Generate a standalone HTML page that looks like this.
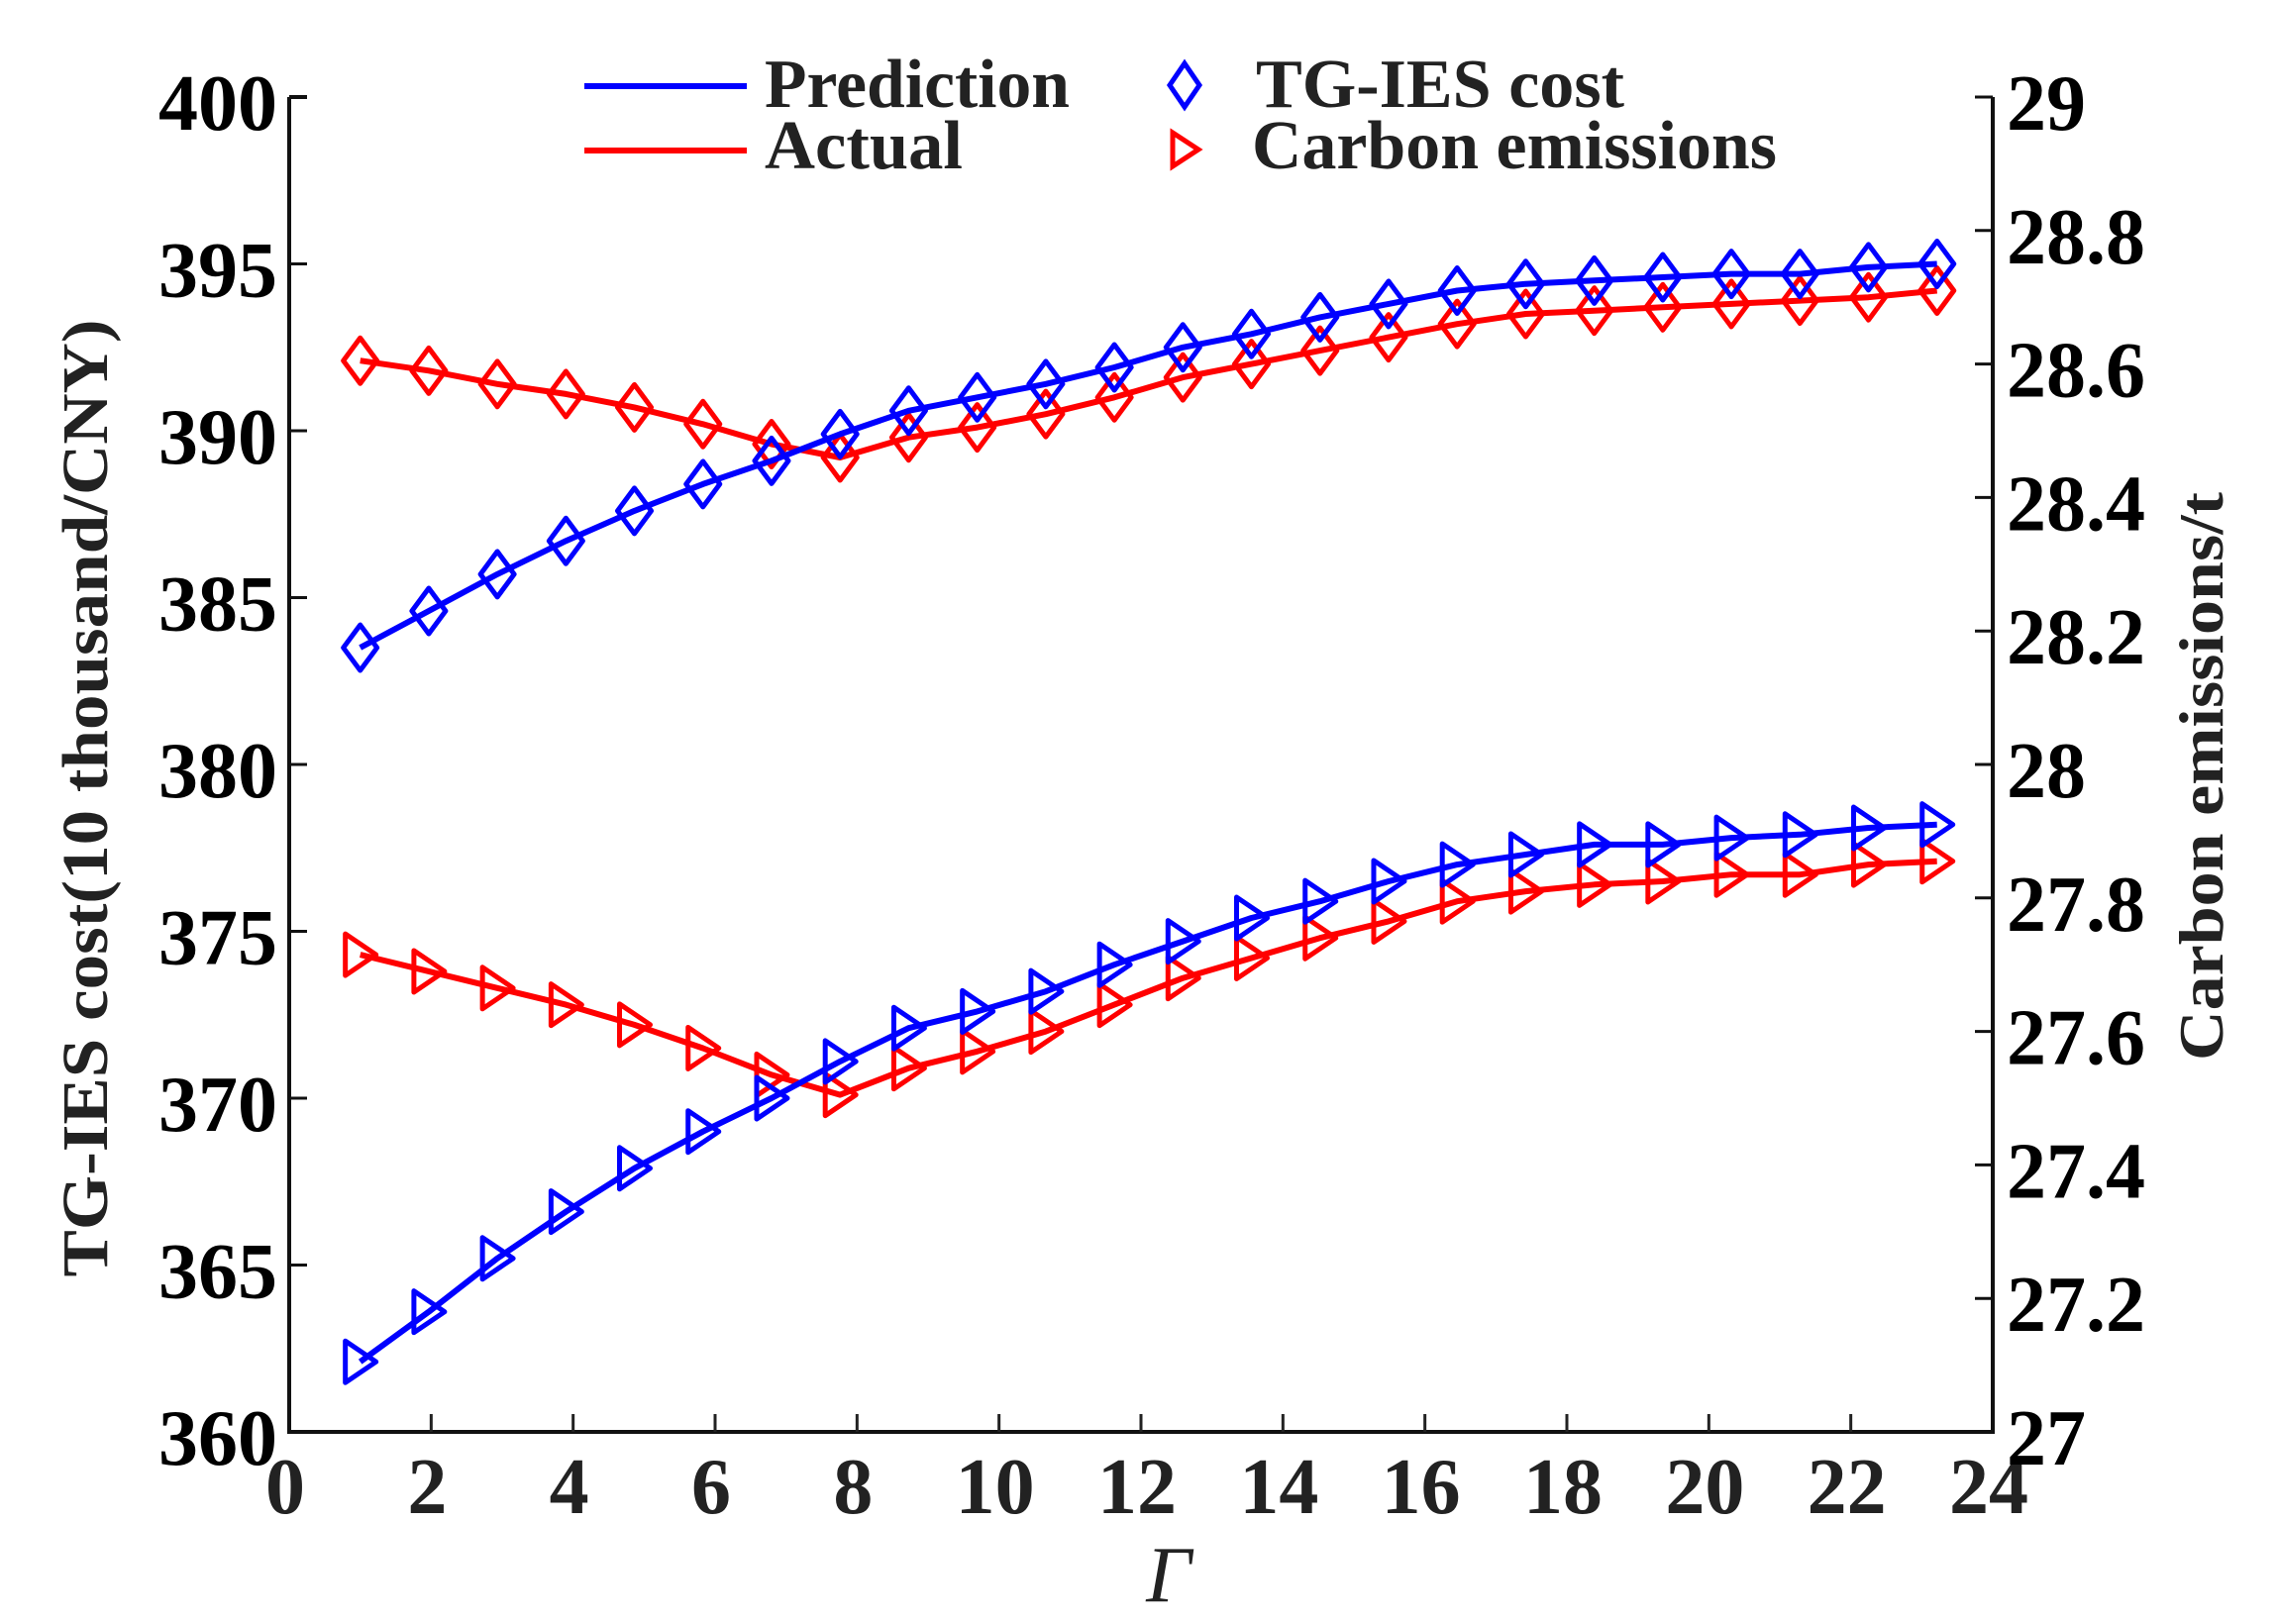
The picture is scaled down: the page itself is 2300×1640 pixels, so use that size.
<!DOCTYPE html>
<html><head><meta charset="utf-8"><style>
html,body{margin:0;padding:0;background:#fff;}
svg{display:block;font-family:"Liberation Serif",serif;font-weight:bold;}
</style></head><body>
<svg id="chart" width="2300" height="1640" viewBox="0 0 2300 1640" xmlns="http://www.w3.org/2000/svg">
<g id="plot"></g>
<g id="axes"></g>
<g id="legend">
  <line x1="590" y1="87" x2="754" y2="87" stroke="#0000ff" stroke-width="6"/>
  <text x="772" y="108" font-size="70" textLength="308" lengthAdjust="spacingAndGlyphs" fill="#222">Prediction</text>
  <line x1="590" y1="152" x2="754" y2="152" stroke="#ff0000" stroke-width="6"/>
  <text x="772" y="170" font-size="70" textLength="200" lengthAdjust="spacingAndGlyphs" fill="#222">Actual</text>
  <path d="M1196,64 L1211,86 L1196,108 L1181,86 Z" fill="none" stroke="#0000ff" stroke-width="5"/>
  <text x="1268" y="108" font-size="70" textLength="372" lengthAdjust="spacingAndGlyphs" fill="#222">TG-IES cost</text>
  <path d="M1184,134 L1210,151 L1184,168 Z" fill="none" stroke="#ff0000" stroke-width="5"/>
  <text x="1264" y="170" font-size="70" textLength="530" lengthAdjust="spacingAndGlyphs" fill="#222">Carbon emissions</text>
</g>
</svg>
<script>
const gammaX = [1,1.966,2.932,3.898,4.863,5.829,6.795,7.761,8.727,9.693,10.659,11.625,12.59,13.556,14.522,15.488,16.454,17.42,18.386,19.351,20.317,21.283,22.249,23.215];
const costPrediction = [383.5,384.6,385.7,386.7,387.6,388.4,389.1,389.9,390.6,391.0,391.4,391.9,392.5,392.9,393.4,393.8,394.2,394.4,394.5,394.6,394.7,394.7,394.9,395.0];
const costActual = [392.1,391.8,391.4,391.1,390.7,390.2,389.6,389.2,389.8,390.1,390.5,391.0,391.6,392.0,392.4,392.8,393.2,393.5,393.6,393.7,393.8,393.9,394.0,394.2];
const carbonPrediction = [27.105,27.18,27.26,27.33,27.395,27.45,27.5,27.555,27.605,27.63,27.66,27.7,27.735,27.77,27.795,27.825,27.85,27.865,27.88,27.88,27.89,27.895,27.905,27.91];
const carbonActual = [27.715,27.69,27.665,27.64,27.61,27.575,27.535,27.505,27.545,27.57,27.6,27.64,27.68,27.71,27.74,27.765,27.795,27.81,27.82,27.825,27.835,27.835,27.85,27.855];
const xTicks = [0,2,4,6,8,10,12,14,16,18,20,22,24];
const yLeftTicks = [360,365,370,375,380,385,390,395,400];
const yRightTicks = [27,27.2,27.4,27.6,27.8,28,28.2,28.4,28.6,28.8,29];
const yRightTickLabels = ["27","27.2","27.4","27.6","27.8","28","28.2","28.4","28.6","28.8","29"];

const NS="http://www.w3.org/2000/svg";
const L=292,R=2012,T=98,B=1446;
const xS=v=>L+(v-0)/24*(R-L);
const yL=v=>B-(v-360)/40*(B-T);
const yR=v=>B-(v-27)/2*(B-T);
function mk(tag,attrs,parent){const e=document.createElementNS(NS,tag);for(const k in attrs)e.setAttribute(k,attrs[k]);parent.appendChild(e);return e;}
const plot=document.getElementById('plot'), axes=document.getElementById('axes');

let e=mk('path',{d:`M${L},${T} L${L},${B} L${R},${B} L${R},${T}`,fill:'none',stroke:'#111','stroke-width':4},axes);


e=mk('line',{x1:L,y1:T,x2:L+18,y2:T,stroke:'#111','stroke-width':4},axes);



xTicks.forEach(v=>{
  const x=xS(v);
  if(v>0&&v<24){const t=mk('line',{x1:x,y1:B,x2:x,y2:B-18,stroke:'#222','stroke-width':3},axes);
  
  }
  const tx=mk('text',{x:x-4,y:1528,'font-size':80,'text-anchor':'middle',fill:'#222'},axes);
  tx.textContent=v;
  
  
});
yLeftTicks.forEach(v=>{
  const y=yL(v);
  const t=mk('line',{x1:L,y1:y,x2:L+18,y2:y,stroke:'#111','stroke-width':3},axes);
  
  
  const tx=mk('text',{x:280,y:y+33,'font-size':80,'text-anchor':'end',fill:'#000'},axes);
  tx.textContent=v;
  
  
});
yRightTicks.forEach((v,i)=>{
  const y=yR(v);
  const t=mk('line',{x1:R,y1:y,x2:R-18,y2:y,stroke:'#111','stroke-width':3},axes);
  
  
  const tx=mk('text',{x:2026,y:y+33,'font-size':80,fill:'#000'},axes);
  tx.textContent=yRightTickLabels[i];
  
  
});
e=mk('text',{x:0,y:0,'font-size':66,'text-anchor':'middle',fill:'#222',transform:'translate(108,806) rotate(-90)',textLength:967,lengthAdjust:'spacingAndGlyphs'},axes);
e.textContent='TG-IES cost(10 thousand/CNY)';


e=mk('text',{x:0,y:0,'font-size':64,'text-anchor':'middle',fill:'#222',transform:'translate(2244,784) rotate(-90)',textLength:574,lengthAdjust:'spacingAndGlyphs'},axes);
e.textContent='Carbon emissions/t';


e=mk('text',{x:1180,y:1617,'font-size':80,'text-anchor':'middle','font-style':'italic','font-weight':'normal',fill:'#222'},axes);
e.textContent='Γ';



function series(vals,ys,color,marker,name){
  const pts=vals.map((v,i)=>xS(gammaX[i]).toFixed(1)+','+ys(v).toFixed(1)).join(' ');
  const pl=mk('polyline',{points:pts,fill:'none',stroke:color,'stroke-width':6,'stroke-linejoin':'round'},plot);
  
  
  vals.forEach((v,i)=>{
    const x=xS(gammaX[i]),y=ys(v);
    const d=marker==='diamond'?`M${x},${y-23} L${x+17},${y} L${x},${y+23} L${x-17},${y} Z`:`M${x-15},${y-21} L${x+16},${y} L${x-15},${y+21} Z`;
    const m=mk('path',{d:d,fill:'none',stroke:color,'stroke-width':5,'stroke-linejoin':'round'},plot);
    
    
  });
}
series(costActual,yL,'#ff0000','diamond','cost-actual');
series(costPrediction,yL,'#0000ff','diamond','cost-prediction');
series(carbonActual,yR,'#ff0000','triangle','carbon-actual');
series(carbonPrediction,yR,'#0000ff','triangle','carbon-prediction');
</script>
</body></html>
